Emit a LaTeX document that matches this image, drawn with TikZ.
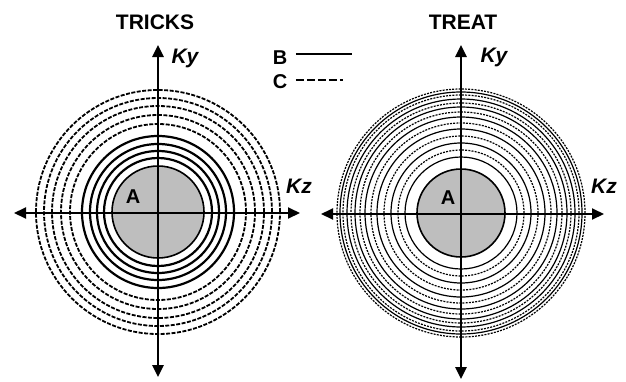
\documentclass[tikz,border=0pt]{standalone}
\usepackage{fontspec}
\setmainfont{Liberation Sans}
\usetikzlibrary{arrows.meta}
\definecolor{diskgray}{RGB}{190,190,190}

\begin{document}
\begin{tikzpicture}[x=1pt,y=-1pt,
    axis/.style={line width=2.6pt,{Triangle[length=12pt,width=11pt]}-{Triangle[length=12pt,width=11pt]}},
    haxis/.style={axis,line width=2pt},
    ringB/.style={line width=2.2pt},
    ringC/.style={line width=1.8pt,dash pattern=on 4pt off 1.5pt},
    fineB/.style={line width=1.2pt},
    fineC/.style={line width=1.2pt,dash pattern=on 2pt off 1.2pt},
    title/.style={font=\bfseries\fontsize{21}{21}\selectfont},
    lab/.style={font=\bfseries\fontsize{20}{20}\selectfont},
    klab/.style={font=\bfseries\itshape\fontsize{21}{21}\selectfont}]
    \useasboundingbox (0,0) rectangle (626,381);
    \fill[white] (0,0) rectangle (626,381);
    % left panel: TRICKS
    \coordinate (cL) at (158,212);
    \filldraw[fill=diskgray,line width=1.6pt] (cL) circle (46pt);
    \foreach \r in {54,61,68,76}
        \draw[ringB] (cL) circle (\r pt);
    \foreach \r in {88,97,106,114,122}
        \draw[ringC] (cL) circle (\r pt);
    \coordinate (Ltop) at (158,45);
    \coordinate (Lbot) at (158,377);
    \coordinate (Lleft) at (14,213);
    \coordinate (Lright) at (300,213);
    \draw[axis] (Lbot) -- (Ltop);
    \draw[haxis] (Lleft) -- (Lright);
    \node[title] (tricks) at (155,22) {TRICKS};
    \node[klab] (kyL) at (185,58) {Ky};
    \node[klab] (kzL) at (299,186) {Kz};
    \node[lab] (aL) at (133,197) {A};
    %\\
    % right panel: TREAT
    \coordinate (cR) at (461,213);
    \filldraw[fill=diskgray,line width=1.6pt] (cR) circle (44pt);
    \foreach \r in {56,70,84,96,106,114,121}
        \draw[fineB] (cR) circle (\r pt);
    \foreach \r in {63,77,90,101,110,118,124}
        \draw[fineC] (cR) circle (\r pt);
    \coordinate (Rtop) at (461,45);
    \coordinate (Rbot) at (461,379);
    \coordinate (Rleft) at (321,214);
    \coordinate (Rright) at (604,214);
    \draw[axis] (Rbot) -- (Rtop);
    \draw[haxis] (Rleft) -- (Rright);
    \node[title] (treat) at (463,22) {TREAT};
    \node[klab] (kyR) at (494,57) {Ky};
    \node[klab] (kzR) at (604,186) {Kz};
    \node[lab] (aR) at (448,198) {A};
    %\\
    % legend
    \node[lab] (legB) at (280,58) {B};
    \node[lab] (legC) at (280,82) {C};
    \coordinate (bEnd) at (352,54);
    \coordinate (cEnd) at (343,80);
    \draw[line width=1.8pt] (legB.east) ++(5,-4) coordinate (bStart) -- (bEnd);
    \draw[line width=2.6pt,dash pattern=on 8pt off 3pt] (legC.east) ++(5,-2) coordinate (cStart) -- (cEnd);
\end{tikzpicture}
\end{document}
